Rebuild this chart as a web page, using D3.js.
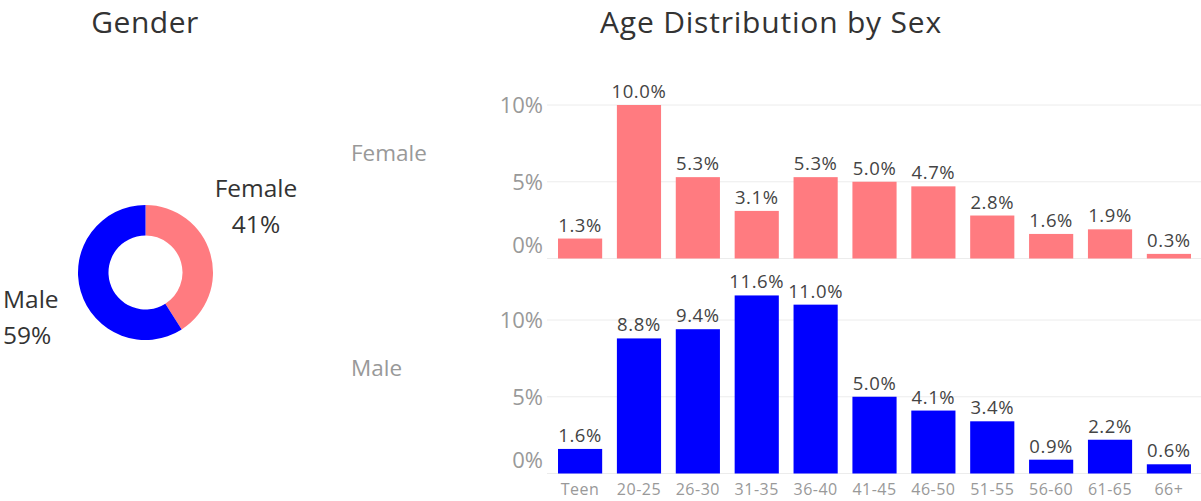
<!doctype html>
<html>
<head>
  <meta charset="UTF-8">
  <script src="https://d3js.org/d3.v7.min.js"></script>
  <style>
    body { margin: 0; background: #fff; }
    svg text { font-family: "Open Sans", "Noto Sans", sans-serif; }
  </style>
</head>
<body>
<svg width="1201" height="501"></svg>
<script>
// gender split (donut)
var genders = ["Female", "Male"];
var genderShare = [41, 59];

// age bands and share of all respondents (%)
var ageBands = ["Teen", "20-25", "26-30", "31-35", "36-40", "41-45", "46-50", "51-55", "56-60", "61-65", "66+"];
var femaleVals = [1.3, 10.0, 5.3, 3.1, 5.3, 5.0, 4.7, 2.8, 1.6, 1.9, 0.3];
var maleVals = [1.6, 8.8, 9.4, 11.6, 11.0, 5.0, 4.1, 3.4, 0.9, 2.2, 0.6];
var yTicks = [0, 5, 10];

var colors = {Female: "#ff7b80", Male: "#0000ff"};

var svg = d3.select("svg");

// titles
svg.append("text").attr("x", 145).attr("y", 33).attr("text-anchor", "middle")
  .style("font-size", "30px").style("fill", "#333").style("letter-spacing", "0.5px")
  .text("Gender");
svg.append("text").attr("x", 771).attr("y", 33).attr("text-anchor", "middle")
  .style("font-size", "30px").style("fill", "#333").style("letter-spacing", "0.8px")
  .text("Age Distribution by Sex");

// ---- donut ----
var pie = d3.pie().sort(null).value(function(d) { return d; });
var arc = d3.arc().innerRadius(37).outerRadius(67.5);
var donut = svg.append("g").attr("transform", "translate(145.5,272.5)");
donut.selectAll("path")
  .data(pie(genderShare))
  .enter().append("path")
  .attr("d", arc)
  .style("fill", function(d, i) { return colors[genders[i]]; });

var donutLabels = [
  {x: 256, y1: 197, y2: 233, anchor: "middle"},
  {x: 3, y1: 308, y2: 344, anchor: "start"}
];
donutLabels.forEach(function(p, i) {
  var t = svg.append("text").attr("text-anchor", p.anchor)
    .style("font-size", "24.5px").style("fill", "#333");
  t.append("tspan").attr("x", p.x).attr("y", p.y1).text(genders[i]);
  t.append("tspan").attr("x", p.x).attr("y", p.y2).text(genderShare[i] + "%");
});

// ---- bars ----
var x = d3.scaleBand().domain(ageBands).range([548, 1201])
  .paddingInner(0.25).paddingOuter(0.17);

var panels = [
  {name: "Female", vals: femaleVals, base: 258.5, labelY: 153},
  {name: "Male", vals: maleVals, base: 473.5, labelY: 368}
];

panels.forEach(function(p) {
  var y = d3.scaleLinear().domain([0, 10]).range([p.base, p.base - 153.5]);
  var g = svg.append("g");

  g.selectAll(".grid").data(yTicks).enter().append("line")
    .attr("x1", 547).attr("x2", 1201)
    .attr("y1", function(d) { return y(d); }).attr("y2", function(d) { return y(d); })
    .style("stroke", "#ececec").style("stroke-width", 1);

  g.selectAll(".tick").data(yTicks).enter().append("text")
    .attr("x", 543)
    .attr("y", function(d) { return Math.min(y(d), p.base - 13); })
    .attr("dy", "0.36em")
    .attr("text-anchor", "end")
    .style("font-size", "22px").style("fill", "#999")
    .text(function(d) { return d + "%"; });

  svg.append("text").attr("x", 351).attr("y", p.labelY).attr("dy", "0.36em")
    .style("font-size", "22.5px").style("fill", "#999").text(p.name);

  g.selectAll(".bar").data(p.vals).enter().append("rect")
    .attr("x", function(d, i) { return x(ageBands[i]); })
    .attr("y", function(d) { return y(d); })
    .attr("width", x.bandwidth())
    .attr("height", function(d) { return p.base - y(d); })
    .style("fill", colors[p.name]);

  g.selectAll(".val").data(p.vals).enter().append("text")
    .attr("x", function(d, i) { return x(ageBands[i]) + x.bandwidth() / 2; })
    .attr("y", function(d) { return y(d) - 7; })
    .attr("text-anchor", "middle")
    .style("font-size", "18.5px").style("fill", "#444").style("letter-spacing", "0.6px")
    .text(function(d) { return d.toFixed(1) + "%"; });
});

// x axis labels under the male panel
svg.append("g").selectAll("text").data(ageBands).enter().append("text")
  .attr("x", function(d) { return x(d) + x.bandwidth() / 2; })
  .attr("y", 495)
  .attr("text-anchor", "middle")
  .style("font-size", "16px").style("fill", "#999").style("letter-spacing", "0.5px")
  .text(function(d) { return d; });
</script>
</body>
</html>
